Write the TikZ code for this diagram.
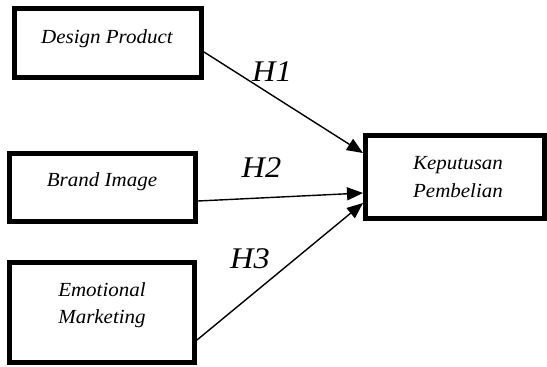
\documentclass[tikz,border=0pt]{standalone}
\usepackage{fontspec}
\setmainfont{Liberation Serif}
\newfontfamily\boxfont[FakeStretch=1.05]{Liberation Serif}
\newfontfamily\hfont[FakeStretch=1.08]{Liberation Serif}
\usetikzlibrary{arrows.meta}
\begin{document}
\begin{tikzpicture}[x=1pt,y=-1pt,
  varbox/.style={draw=black,line width=5pt,rectangle,inner sep=0pt,fill=white},
  boxtext/.style={anchor=base,inner sep=0pt,font=\boxfont\itshape\fontsize{20}{24}\selectfont},
  htext/.style={anchor=base west,inner sep=0pt,font=\hfont\itshape\fontsize{30}{34}\selectfont},
  link/.style={line width=1.4pt,-{Triangle[length=16pt,width=13pt]}}]
\useasboundingbox (0,0) rectangle (547,367);
% boxes
\node[varbox,minimum width=187pt,minimum height=69pt] (dp) at (108,43) {};
\node[varbox,minimum width=186pt,minimum height=68pt] (bi) at (102.5,187.5) {};
\node[varbox,minimum width=185pt,minimum height=100pt] (em) at (102,312.5) {};
\node[varbox,minimum width=179pt,minimum height=83pt] (kp) at (455,177) {};
% texts
\node[boxtext] (dpt) at (107,43) {Design Product};
\node[boxtext] (bit) at (102,186) {Brand Image};
\node[boxtext] (emt1) at (102,296) {Emotional};
\node[boxtext] (emt2) at (102,323) {Marketing};
\node[boxtext] (kpt1) at (458,169) {Keputusan};
\node[boxtext] (kpt2) at (458,197) {Pembelian};
% arrows
\draw[link] ([yshift=-9pt]dp.east) -- ([yshift=24pt]kp.west);
\draw[link] ([yshift=-13.5pt]bi.east) -- ([yshift=-16pt]kp.west);
\draw[link] ([yshift=-27.5pt]em.east) -- ([yshift=-26pt]kp.west);
% labels
\node[htext] (h1) at (252,81.5) {H1};
\node[htext] (h2) at (241.5,177) {H2};
\node[htext] (h3) at (230,268) {H3};
\end{tikzpicture}
\end{document}
